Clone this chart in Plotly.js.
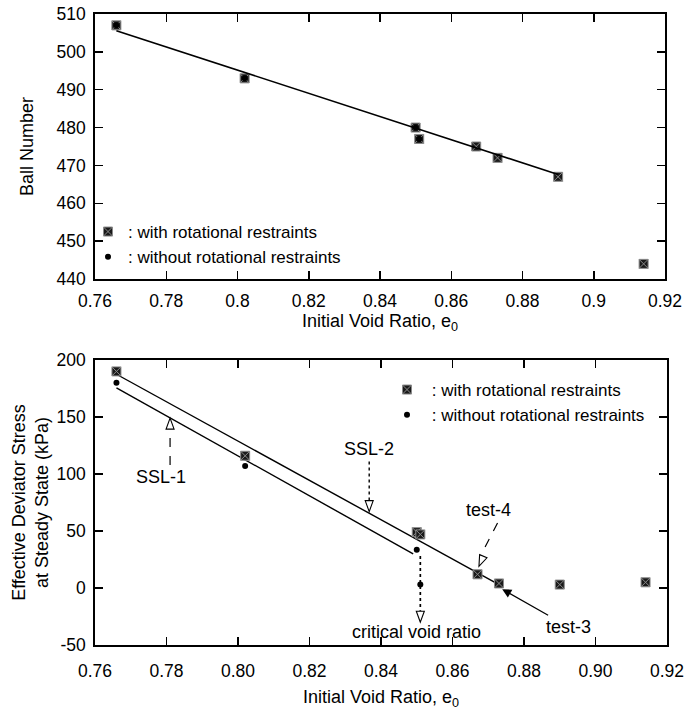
<!DOCTYPE html>
<html>
<head>
<meta charset="utf-8">
<script src="https://cdn.plot.ly/plotly-3.0.1.min.js"></script>
<style>html,body{margin:0;padding:0;background:#fff;}#chart{width:699px;height:710px;}</style>
</head>
<body>
<div id="chart"></div>
<script>
// ---- data ----
var voidRatio = [0.766, 0.802, 0.850, 0.851, 0.867, 0.873, 0.890, 0.914];
var ballNumber = [507, 493, 480, 477, 475, 472, 467, 444];
var voidRatioNoRot = [0.766, 0.802, 0.850, 0.851];
var ballNumberNoRot = [507, 493, 480, 477];
var fitX = [0.766, 0.890];
var fitY = [505.6, 467.6];

var stressWith = [190, 116, 49, 47, 12, 4, 3, 5];
var stressWithout = [180, 107, 33.5, 3];
var ssl2X = [0.766, 0.873];
var ssl2Y = [187.5, 3];
var ssl1X = [0.766, 0.849];
var ssl1Y = [175.5, 30];

var xTicks = [0.76, 0.78, 0.80, 0.82, 0.84, 0.86, 0.88, 0.90, 0.92];
var yTicks2 = [-50, 0, 50, 100, 150, 200];
var yTickText2 = ['-50', '0', '50', '100', '150', '200'];

var legendWith = ': with rotational restraints';
var legendWithout = ': without rotational restraints';

// ---- styles ----
var FONT = 'Liberation Sans, Arial, Helvetica, sans-serif';
var sqMarker = {symbol: 'square-x', size: 9, color: '#1a1a1a', line: {color: '#8a8a8a', width: 1}};
var ciMarker = {symbol: 'circle', size: 6, color: '#000'};

var traces = [
  {x: voidRatio, y: ballNumber, mode: 'markers', marker: sqMarker, name: legendWith, xaxis: 'x', yaxis: 'y', legend: 'legend'},
  {x: voidRatioNoRot, y: ballNumberNoRot, mode: 'markers', marker: ciMarker, name: legendWithout, xaxis: 'x', yaxis: 'y', legend: 'legend'},
  {x: fitX, y: fitY, mode: 'lines', line: {color: '#000', width: 1.6}, showlegend: false, xaxis: 'x', yaxis: 'y'},
  {x: ssl2X, y: ssl2Y, mode: 'lines', line: {color: '#000', width: 1.4}, showlegend: false, xaxis: 'x2', yaxis: 'y2'},
  {x: ssl1X, y: ssl1Y, mode: 'lines', line: {color: '#000', width: 1.4}, showlegend: false, xaxis: 'x2', yaxis: 'y2'},
  {x: voidRatio, y: stressWith, mode: 'markers', marker: sqMarker, name: ' ' + legendWith, xaxis: 'x2', yaxis: 'y2', legend: 'legend2'},
  {x: voidRatioNoRot, y: stressWithout, mode: 'markers', marker: ciMarker, name: ' ' + legendWithout, xaxis: 'x2', yaxis: 'y2', legend: 'legend2'}
];

var axBase = {
  showline: true, linewidth: 1.8, linecolor: '#000', mirror: 'ticks',
  ticks: 'inside', ticklen: 8, tickwidth: 1.5, tickcolor: '#000',
  showgrid: false, zeroline: false, automargin: false,
  tickfont: {family: FONT, size: 17.5, color: '#000'}
};
function ax(o){ return Object.assign({}, axBase, o); }

var W = 699, H = 710;
// bottom-plot pixel -> data conversion for the open arrow heads
var X0 = 95, X1 = 667, Y0 = 360, Y1 = 645;
var xPerPx = (0.92 - 0.76) / (X1 - X0);
var yPerPx = (200 - (-50)) / (Y1 - Y0);
function headPath(tx, ty, dxp, dyp, L, w) {
  var n = Math.sqrt(dxp*dxp + dyp*dyp); dxp /= n; dyp /= n;
  var px = -dyp, py = dxp;
  function pt(ox, oy) { return (tx + ox*xPerPx).toFixed(6) + ',' + (ty - oy*yPerPx).toFixed(4); }
  return 'M' + pt(0,0) + ' L' + pt(-L*dxp + w*px, -L*dyp + w*py) + ' L' + pt(-L*dxp - w*px, -L*dyp - w*py) + ' Z';
}
function head(tx, ty, dxp, dyp) {
  return {type: 'path', xref: 'x2', yref: 'y2', path: headPath(tx, ty, dxp, dyp, 11, 4),
    line: {color: '#000', width: 1.1}, fillcolor: 'rgba(255,255,255,1)'};
}
var t4dx = (0.8674 - 0.8726) / xPerPx, t4dy = (57 - 19) / yPerPx;

var layout = {
  width: W, height: H,
  margin: {l: 0, r: 0, t: 0, b: 0},
  paper_bgcolor: '#fff', plot_bgcolor: '#fff',
  font: {family: FONT, size: 18, color: '#000'},
  xaxis: ax({domain: [95/W, 665/W], anchor: 'y', range: [0.76, 0.92], tick0: 0.76, dtick: 0.02,
    ticklabelstandoff: 5,
    title: {text: 'Initial Void Ratio, e<sub>0</sub>', font: {family: FONT, size: 18}, standoff: 3}}),
  yaxis: ax({domain: [1 - 279/H, 1 - 14/H], anchor: 'x', range: [440, 510], tick0: 440, dtick: 10,
    ticklabelstandoff: 4,
    title: {text: 'Ball Number', font: {family: FONT, size: 18}, standoff: 18}}),
  xaxis2: ax({domain: [95/W, 667/W], anchor: 'y2', range: [0.76, 0.92], tickmode: 'array', tickvals: xTicks, tickformat: '.2f',
    ticklabelstandoff: 9,
    title: {text: 'Initial Void Ratio, e<sub>0</sub>', font: {family: FONT, size: 18}, standoff: 14}}),
  yaxis2: ax({domain: [1 - 645/H, 1 - 360/H], anchor: 'x2', range: [-50, 200], tickmode: 'array', tickvals: yTicks2, ticktext: yTickText2,
    ticklabelstandoff: 4,
    title: {text: 'Effective Deviator Stress<br>at Steady State (kPa)', font: {family: FONT, size: 18}, standoff: 3}}),
  legend: {x: 88/W, y: 1 - 214/H, xanchor: 'left', yanchor: 'top', bgcolor: 'rgba(0,0,0,0)',
    font: {family: FONT, size: 17}, itemwidth: 30, tracegroupgap: 0},
  legend2: {x: 387/W, y: 1 - 372/H, xanchor: 'left', yanchor: 'top', bgcolor: 'rgba(0,0,0,0)',
    font: {family: FONT, size: 17}, itemwidth: 30, tracegroupgap: 0},
  shapes: [
    {type: 'line', xref: 'x2', yref: 'y2', x0: 0.781, y0: 108, x1: 0.781, y1: 139, line: {color: '#000', width: 1.2, dash: 'dash'}},
    {type: 'line', xref: 'x2', yref: 'y2', x0: 0.8367, y0: 111, x1: 0.8367, y1: 77, line: {color: '#000', width: 1.4, dash: 'dot'}},
    {type: 'line', xref: 'x2', yref: 'y2', x0: 0.8726, y0: 57, x1: 0.8678, y1: 28, line: {color: '#000', width: 1.2, dash: 'dash'}},
    {type: 'line', xref: 'x2', yref: 'y2', x0: 0.851, y0: 28, x1: 0.851, y1: -20, line: {color: '#000', width: 1.7, dash: 'dot'}},
    head(0.781, 149, 0, -1),
    head(0.8367, 67, 0, 1),
    head(0.8674, 19, t4dx, t4dy),
    head(0.851, -30, 0, 1)
  ],
  annotations: [
    {xref: 'x2', yref: 'y2', x: 0.7785, y: 97, text: 'SSL-1', showarrow: false, font: {family: FONT, size: 18}},
    {xref: 'x2', yref: 'y2', x: 0.8367, y: 122, text: 'SSL-2', showarrow: false, font: {family: FONT, size: 18}},
    {xref: 'x2', yref: 'y2', x: 0.8702, y: 68, text: 'test-4', showarrow: false, font: {family: FONT, size: 18}},
    {xref: 'x2', yref: 'y2', x: 0.8498, y: -39, text: 'critical void ratio', showarrow: false, font: {family: FONT, size: 18}},
    {xref: 'x2', yref: 'y2', axref: 'x2', ayref: 'y2', x: 0.8739, y: -1, ax: 0.8924, ay: -34, text: 'test-3',
      showarrow: true, arrowhead: 2, arrowsize: 1.4, arrowwidth: 1.3, arrowcolor: '#000', standoff: 0, font: {family: FONT, size: 18}}
  ]
};

Plotly.newPlot('chart', traces, layout, {staticPlot: true, displayModeBar: false});
</script>
</body>
</html>
